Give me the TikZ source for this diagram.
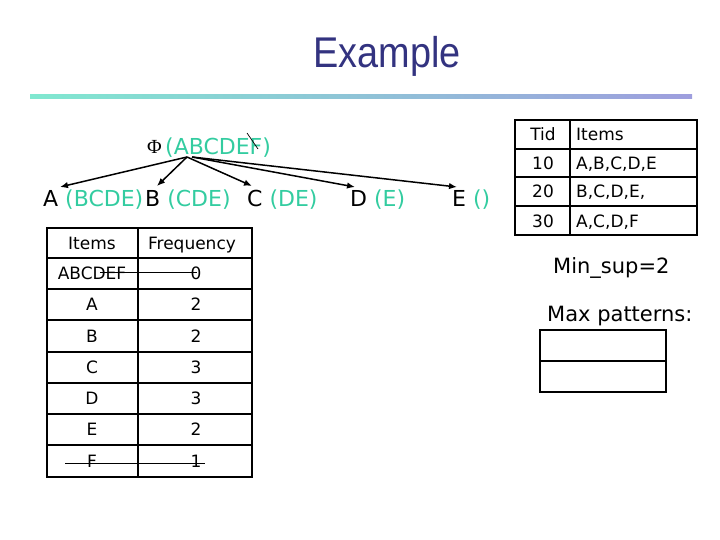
\documentclass[tikz,border=0pt]{standalone}
\usepackage{fontspec}
\setmainfont{DejaVu Sans}
\newfontfamily\titlefont{Liberation Sans}
\newfontfamily\serifg{Liberation Serif}
\usetikzlibrary{arrows.meta}
\definecolor{titleblue}{RGB}{51,51,128}
\definecolor{tealc}{RGB}{51,204,160}
\definecolor{gradL}{RGB}{128,232,208}
\definecolor{gradR}{RGB}{158,158,222}
\begin{document}
\begin{tikzpicture}[x=1pt,y=-1pt,
  arr/.style={line width=1.5pt,-{Latex[length=8pt,width=6.5pt]}},
  treetxt/.style={anchor=base west,inner sep=0pt,font=\fontsize{22}{26}\selectfont},
  cell/.style={anchor=base,inner sep=0pt,font=\fontsize{17}{20}\selectfont},
  cellL/.style={anchor=base west,inner sep=0pt,font=\fontsize{17}{20}\selectfont},
  outerline/.style={line width=1.8pt},
  innerline/.style={line width=1.1pt},
  strikeline/.style={line width=1pt},
  bigtxt/.style={anchor=base west,inner sep=0pt,font=\fontsize{21}{25}\selectfont}]
\useasboundingbox (0,0) rectangle (720,540);
% title
\node[inner sep=0pt,anchor=base,text=titleblue,font=\titlefont\fontsize{43}{50}\selectfont] (title) at (387,68) {\scalebox{0.88}[1]{Example}};
\shade[left color=gradL,right color=gradR] (30,95) rectangle (692,99);
% tree
\node[treetxt,font=\serifg\fontsize{20}{24}\selectfont] (phi) at (147,154) {Φ};
\node[treetxt,text=tealc] (rootset) at (165,155) {(ABCDEF)};
\coordinate (sl1) at (247,133);
\coordinate (sl2) at (258,149);
\draw[line width=0.7pt] (sl1) -- (sl2);
\node[treetxt] (nA) at (43,207) {A \textcolor{tealc}{(BCDE)}};
\node[treetxt] (nB) at (145,207) {B \textcolor{tealc}{(CDE)}};
\node[treetxt] (nC) at (247,207) {C \textcolor{tealc}{(DE)}};
\node[treetxt] (nD) at (350,207) {D \textcolor{tealc}{(E)}};
\node[treetxt] (nE) at (452,207) {E \textcolor{tealc}{()}};
\coordinate (o1) at (187,157);
\coordinate (o2) at (192,157);
\coordinate (eA) at (60,187);
\coordinate (eB) at (157,186);
\coordinate (eC) at (252,186);
\coordinate (eD) at (355,187);
\coordinate (eE) at (457,187);
\draw[arr] (o1) -- (eA);
\draw[arr] (o1) -- (eB);
\draw[arr] (o1) -- (eC);
\draw[arr] (o2) -- (eD);
\draw[arr] (o2) -- (eE);
% left table
\draw[outerline] (47,228) rectangle (252,477);
\draw[innerline] (138,228) -- (138,477);
\foreach \yy in {258,289,320,352,383,414,445} {\draw[innerline] (47,\yy) -- (252,\yy);}
\node[cell] (h1) at (92,249) {Items};
\node[cell] (h2) at (192,249) {Frequency};
\node[cell] (r1a) at (92,279.5) {ABCDEF};
\node[cell] (r1b) at (196,279.5) {0};
\node[cell] (r2a) at (92,310.5) {A};
\node[cell] (r2b) at (196,310.5) {2};
\node[cell] (r3a) at (92,342) {B};
\node[cell] (r3b) at (196,342) {2};
\node[cell] (r4a) at (92,373.5) {C};
\node[cell] (r4b) at (196,373.5) {3};
\node[cell] (r5a) at (92,404.5) {D};
\node[cell] (r5b) at (196,404.5) {3};
\node[cell] (r6a) at (92,435.5) {E};
\node[cell] (r6b) at (196,435.5) {2};
\node[cell] (r7a) at (92,467) {F};
\node[cell] (r7b) at (196,467) {1};
\coordinate (st1a) at (100,272);
\coordinate (st1b) at (197,272);
\draw[strikeline] (st1a) -- (st1b);
\coordinate (st2a) at (65,463);
\coordinate (st2b) at (205,463);
\draw[strikeline] (st2a) -- (st2b);
% right table
\draw[outerline] (515,120) rectangle (697,235);
\draw[innerline] (570,120) -- (570,235);
\foreach \yy in {149,177,206} {\draw[innerline] (515,\yy) -- (697,\yy);}
\node[cell] (t0) at (543,141) {Tid};
\node[cellL] (i0) at (576,141) {Items};
\node[cell] (t1) at (543,169.5) {10};
\node[cellL] (i1) at (576,169.5) {A,B,C,D,E};
\node[cell] (t2) at (543,198) {20};
\node[cellL] (i2) at (576,198) {B,C,D,E,};
\node[cell] (t3) at (543,227) {30};
\node[cellL] (i3) at (576,227) {A,C,D,F};
% right texts
\node[bigtxt] (minsup) at (553,273) {Min\_sup=2};
\node[bigtxt] (maxp) at (547,321) {Max patterns:};
\draw[outerline] (540,330) rectangle (666,392);
\draw[innerline] (540,361) -- (666,361);
\end{tikzpicture}
\end{document}
